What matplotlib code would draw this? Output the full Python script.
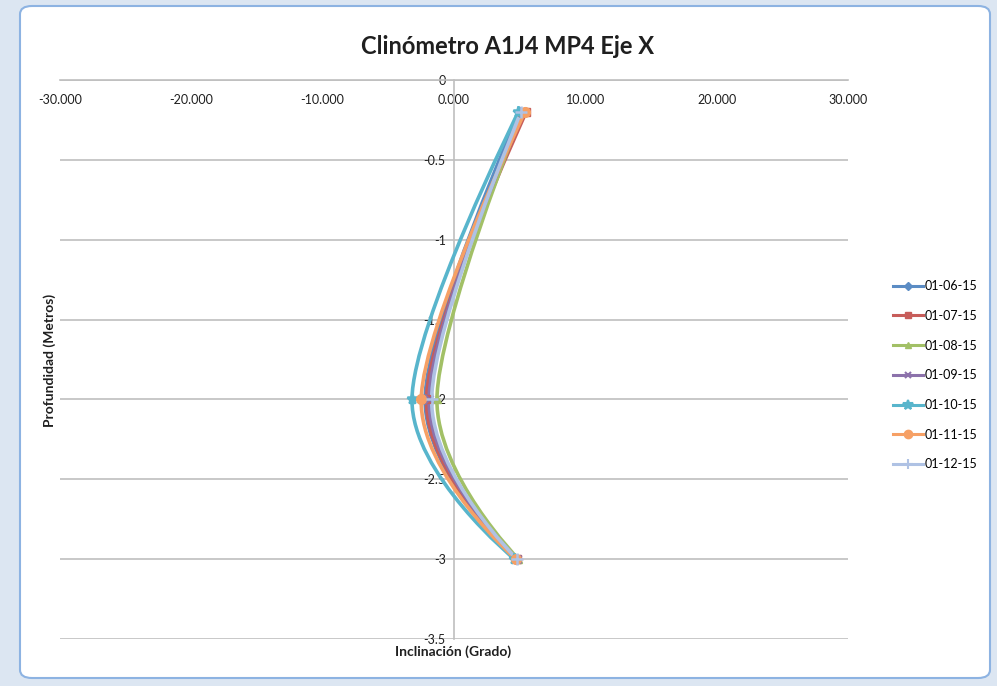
import matplotlib
matplotlib.use("Agg")
import matplotlib.pyplot as plt
from matplotlib.path import Path
from matplotlib.patches import PathPatch, FancyBboxPatch
from matplotlib.lines import Line2D
import numpy as np

plt.rcParams['font.family'] = ['Lato', 'DejaVu Sans']

# Inclination readings (degrees) per survey date, at each measured depth (m)
depths = [-0.2, -2.0, -3.0]
dates = ['01-06-15', '01-07-15', '01-08-15', '01-09-15', '01-10-15', '01-11-15', '01-12-15']
incl_01_06 = [5.0, -2.2, 4.7]
incl_01_07 = [5.5, -2.1, 4.8]
incl_01_08 = [5.2, -1.3, 4.9]
incl_01_09 = [5.2, -1.9, 4.8]
incl_01_10 = [4.9, -3.2, 4.6]
incl_01_11 = [5.4, -2.5, 4.7]
incl_01_12 = [5.1, -1.7, 4.8]
series = [incl_01_06, incl_01_07, incl_01_08, incl_01_09, incl_01_10, incl_01_11, incl_01_12]

colors = ['#5B8CC4', '#C75D5A', '#A2C066', '#8C72AB', '#58B5CC', '#F6A065', '#AFC2E4']
markers = ['D', 's', '^', 'x', '*', 'o', '+']
msizes = [5, 6, 6, 6, 8, 7, 8]


def smooth_path(xs, ys):
    """Cubic Bezier path through the points (spreadsheet-style smoothed line).

    Inner points get Catmull-Rom tangents; the end points keep their own
    position as the outer control point.
    """
    pts = np.column_stack([xs, ys]).astype(float)
    n = len(pts)
    tang = [np.zeros(2)]
    for i in range(1, n - 1):
        tang.append((pts[i + 1] - pts[i - 1]) / 2.0)
    tang.append(np.zeros(2))
    verts = [pts[0]]
    codes = [Path.MOVETO]
    for i in range(n - 1):
        verts += [pts[i] + tang[i] / 3.0, pts[i + 1] - tang[i + 1] / 3.0, pts[i + 1]]
        codes += [Path.CURVE4] * 3
    return Path(verts, codes)


fig = plt.figure(figsize=(9.97, 6.86), dpi=100)
fig.patch.set_facecolor('#DCE6F2')

# chart frame
frame = FancyBboxPatch((20 / 997, 8 / 686), 970 / 997, 672 / 686,
                       boxstyle="round,pad=0,rounding_size=0.012",
                       transform=fig.transFigure, facecolor='white',
                       edgecolor='#8DB3E2', linewidth=1.5, zorder=-10)
fig.patches.append(frame)

ax = fig.add_axes([60 / 997, 1 - 639 / 686, 788 / 997, 559 / 686])
ax.set_facecolor('none')
ax.set_xlim(-30, 30)
ax.set_ylim(-3.5, 0)

for s in ['top', 'right']:
    ax.spines[s].set_visible(False)
ax.spines['bottom'].set_position(('data', 0))
ax.spines['left'].set_position(('data', 0))
for s in ['bottom', 'left']:
    ax.spines[s].set_color('#BFBFBF')
    ax.spines[s].set_linewidth(1.2)

xt = np.arange(-30, 31, 10)
ax.set_xticks(xt)
ax.set_xticklabels(['%.3f' % v for v in xt])
yt = np.arange(0, -3.6, -0.5)
ax.set_yticks(yt)
ax.set_yticklabels(['0' if v == 0 else ('%g' % v) for v in yt])
ax.tick_params(axis='both', length=0, labelsize=9, colors='#1F1F1F')
ax.tick_params(axis='x', pad=10)
ax.tick_params(axis='y', pad=6)
ax.yaxis.grid(True, color='#BFBFBF', linewidth=1.2)
ax.set_axisbelow(True)

for vals, c, m, ms in zip(series, colors, markers, msizes):
    ax.add_patch(PathPatch(smooth_path(vals, depths), fill=False, edgecolor=c,
                           linewidth=2.6, zorder=3, capstyle='round'))
    ax.plot(vals, depths, linestyle='none', marker=m, color=c, markersize=ms,
            markeredgewidth=1.8 if m in ('x', '+', '*') else 1, zorder=4)

handles = [Line2D([0], [0], color=c, linewidth=2.2, marker=m, markersize=ms - 1,
                  markeredgewidth=1.5 if m in ('x', '+', '*') else 1)
           for c, m, ms in zip(colors, markers, msizes)]
fig.legend(handles, dates, loc='upper left', bbox_to_anchor=(888 / 997, 1 - 275 / 686),
           frameon=False, fontsize=9, handlelength=2.4, handletextpad=0.1,
           labelspacing=1.42, borderaxespad=0)

fig.text(508 / 997, 1 - 47 / 686, 'Clinómetro A1J4 MP4 Eje X', ha='center', va='center',
         fontsize=17, fontweight='bold', color='#1F1F1F')
fig.text(453 / 997, 1 - 652 / 686, 'Inclinación (Grado)', ha='center', va='center',
         fontsize=10, fontweight='bold', color='#1F1F1F')
fig.text(50 / 997, 1 - 360 / 686, 'Profundidad (Metros)', ha='center', va='center',
         rotation=90, fontsize=10, fontweight='bold', color='#1F1F1F')

fig.savefig('out.png', dpi=100, facecolor=fig.get_facecolor())
